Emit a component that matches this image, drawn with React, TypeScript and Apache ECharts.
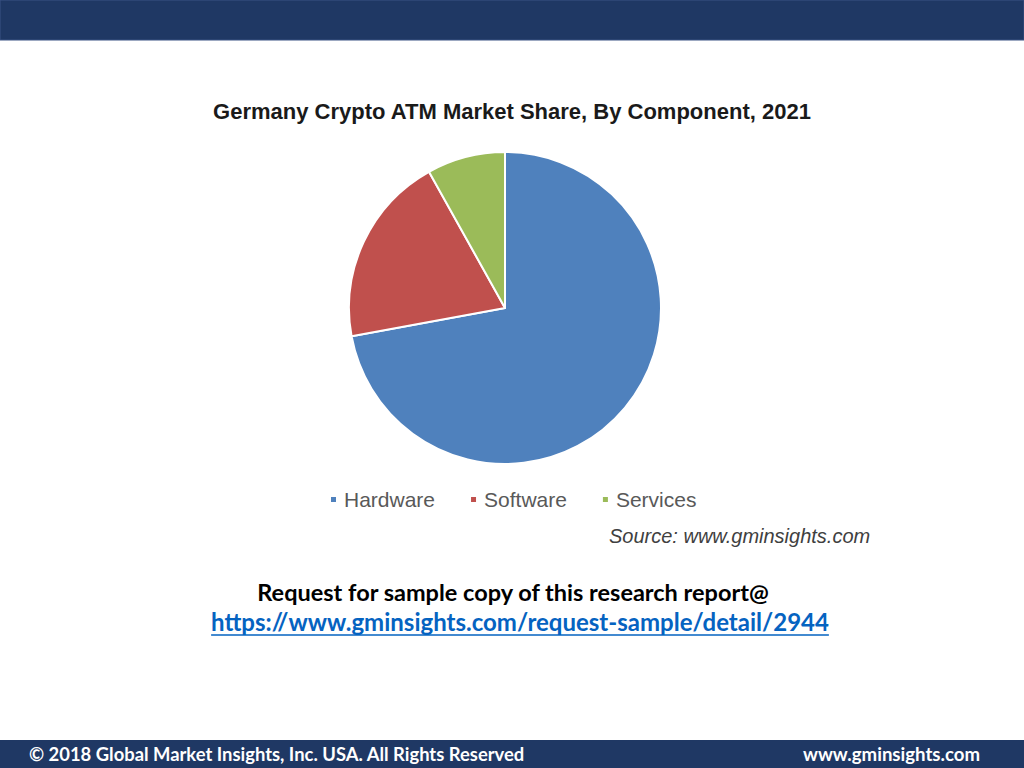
import React, { useEffect, useRef } from "react";
import * as echarts from "echarts";

const categories = ["Hardware", "Software", "Services"];
const shares = [72.1, 19.8, 8.1];
const colors = ["#4F81BD", "#C0504D", "#9BBB59"];
const titleText = "Germany Crypto ATM Market Share, By Component, 2021";
const sourceText = "Source: www.gminsights.com";
const requestText = "Request for sample copy of this research report@";
const linkText = "https://www.gminsights.com/request-sample/detail/2944";
const footerLeft = "\u00A9 2018 Global Market Insights, Inc. USA. All Rights Reserved";
const footerRight = "www.gminsights.com";

function measure(text: string, font: string): number {
  const c = document.createElement("canvas").getContext("2d");
  if (!c) return text.length * 11;
  c.font = font;
  return c.measureText(text).width;
}

export default function App() {
  const ref = useRef<HTMLDivElement>(null);
  useEffect(() => {
    if (!ref.current) return;
    const chart = echarts.init(ref.current, undefined, { renderer: "svg" });
    const linkFont = "bold 24px Lato";
    const linkW = measure(linkText, linkFont);
    const linkX = 520 - linkW / 2;
    chart.setOption({
      animation: false,
      backgroundColor: "#ffffff",
      title: {
        text: titleText,
        left: "center",
        top: 95,
        textStyle: {
          fontFamily: "Liberation Sans, Arial, sans-serif",
          fontWeight: "bold",
          fontSize: 22,
          color: "#1a1a1a",
        },
      },
      legend: {
        data: categories,
        left: 324,
        top: 484,
        icon: "rect",
        itemWidth: 7,
        itemHeight: 7,
        itemGap: 34,
        textStyle: {
          fontFamily: "Liberation Sans, Arial, sans-serif",
          fontSize: 21,
          color: "#595959",
          padding: [0, 0, 0, 2],
        },
        selectedMode: false,
      },
      graphic: [
        { type: "rect", shape: { x: 0, y: 0, width: 1024, height: 40 }, style: { fill: "#1F3864", stroke: "#3a5283", lineWidth: 1 }, silent: true },
        { type: "rect", shape: { x: 0, y: 740, width: 1024, height: 28 }, style: { fill: "#1F3864" }, silent: true },
        {
          type: "text",
          x: 609,
          y: 536,
          style: {
            text: sourceText,
            fill: "#404040",
            font: "italic 20px Liberation Sans, Arial, sans-serif",
            verticalAlign: "middle",
            align: "left",
          },
        },
        {
          type: "text",
          x: 513,
          y: 592,
          style: {
            text: requestText,
            fill: "#000000",
            font: "bold 23.5px Lato",
            verticalAlign: "middle",
            align: "center",
          },
        },
        {
          type: "text",
          x: 520,
          y: 621,
          style: {
            text: linkText,
            fill: "#0563C1",
            font: linkFont,
            verticalAlign: "middle",
            align: "center",
          },
        },
        {
          type: "line",
          shape: { x1: linkX, y1: 635, x2: linkX + linkW, y2: 635 },
          style: { stroke: "#0563C1", lineWidth: 1.5 },
        },
        {
          type: "text",
          x: 29,
          y: 754,
          style: {
            text: footerLeft,
            fill: "#ffffff",
            font: "bold 18.4px Lato",
            verticalAlign: "middle",
            align: "left",
          },
        },
        {
          type: "text",
          x: 980,
          y: 754,
          style: {
            text: footerRight,
            fill: "#ffffff",
            font: "bold 18.6px Lato",
            verticalAlign: "middle",
            align: "right",
          },
        },
      ],
      series: [
        {
          type: "pie",
          center: [505, 308],
          radius: 156,
          startAngle: 90,
          clockwise: true,
          label: { show: false },
          labelLine: { show: false },
          emphasis: { disabled: true },
          itemStyle: { borderColor: "#ffffff", borderWidth: 2 },
          data: categories.map((name, i) => ({
            name,
            value: shares[i],
            itemStyle: { color: colors[i] },
          })),
        },
      ],
    });
    return () => chart.dispose();
  }, []);
  return (
    <div
      ref={ref}
      style={{ position: "absolute", left: 0, top: 0, width: 1024, height: 768 }}
    />
  );
}
